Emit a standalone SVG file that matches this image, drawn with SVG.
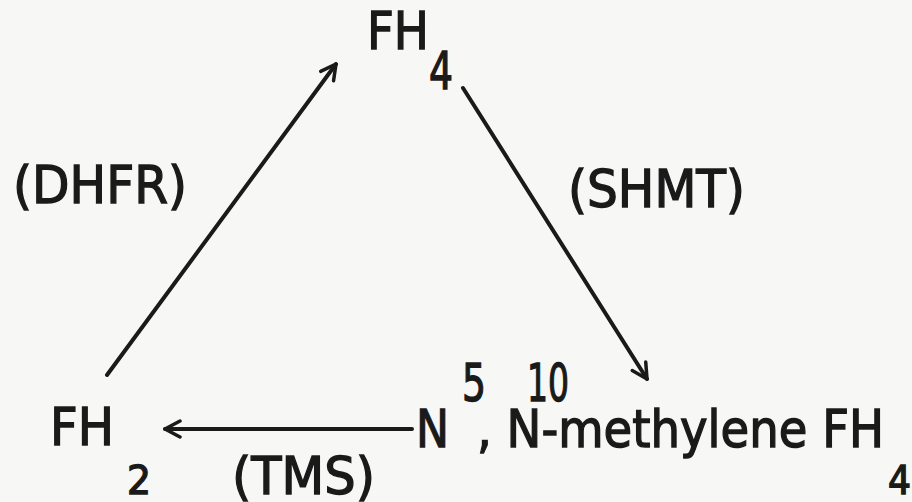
<svg xmlns="http://www.w3.org/2000/svg" width="912" height="502" viewBox="0 0 912 502">
<style>
text{font-family:"DejaVu Sans","Liberation Sans",sans-serif;fill:#1a1a1a;stroke:#1a1a1a;stroke-width:1.4;font-size:52px}
.d{font-size:51px}
.ds{font-size:39px}
.c{stroke:#1a1a1a;stroke-width:4;fill:none;stroke-linecap:round}
</style>
<defs>
<marker id="ah" viewBox="0 0 20 20" refX="18" refY="10" markerWidth="5" markerHeight="5" orient="auto" markerUnits="strokeWidth">
<path d="M3,2 L18,10 L3,18" fill="none" stroke="#1a1a1a" stroke-width="3.5" stroke-linecap="round" stroke-linejoin="round"/>
</marker>
</defs>
<rect width="912" height="502" fill="#f7f7f5"/>
<g id="connectors">
<line class="c" x1="107" y1="375" x2="336" y2="64" marker-end="url(#ah)"/>
<line class="c" x1="463" y1="88" x2="647" y2="379" marker-end="url(#ah)"/>
<line class="c" x1="412" y1="429" x2="165" y2="429" marker-end="url(#ah)"/>
</g>
<g id="fh4">
<text x="367" y="49" textLength="62" lengthAdjust="spacingAndGlyphs">FH</text>
<text class="d" x="429" y="89" textLength="24" lengthAdjust="spacingAndGlyphs">4</text>
</g>
<g id="fh2">
<text x="50" y="445" textLength="64" lengthAdjust="spacingAndGlyphs">FH</text>
<text class="ds" x="127" y="494" textLength="24" lengthAdjust="spacingAndGlyphs">2</text>
</g>
<g id="methylene">
<text x="416" y="447" textLength="33" lengthAdjust="spacingAndGlyphs">N</text>
<text class="d" x="462" y="401" textLength="24" lengthAdjust="spacingAndGlyphs">5</text>
<text class="d" x="527" y="401" textLength="42" lengthAdjust="spacingAndGlyphs">10</text>
<text x="477" y="447" textLength="407" lengthAdjust="spacingAndGlyphs">, N-methylene FH</text>
<text class="ds" x="888" y="494" textLength="23" lengthAdjust="spacingAndGlyphs">4</text>
</g>
<g id="labels">
<text x="13" y="203" textLength="174" lengthAdjust="spacingAndGlyphs">(DHFR)</text>
<text x="568" y="207" textLength="177" lengthAdjust="spacingAndGlyphs">(SHMT)</text>
<text x="232" y="494" textLength="143" lengthAdjust="spacingAndGlyphs">(TMS)</text>
</g>
</svg>
